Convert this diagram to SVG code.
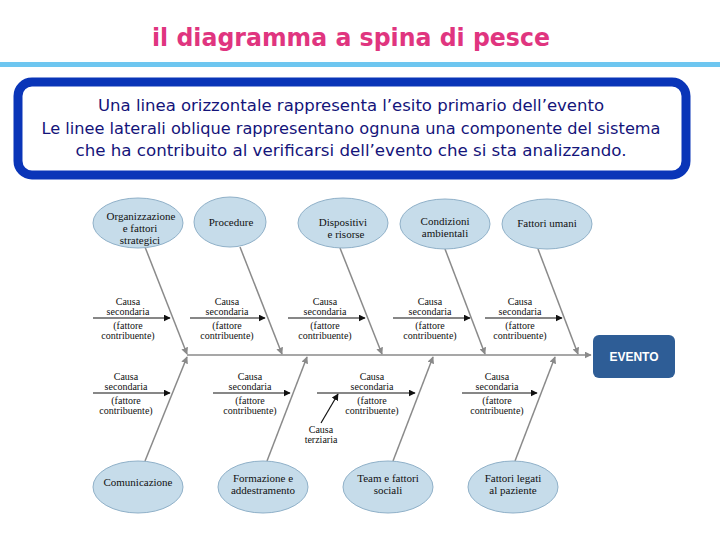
<svg xmlns="http://www.w3.org/2000/svg" width="720" height="540" viewBox="0 0 720 540">
<style>
.title{font-family:"DejaVu Sans","Liberation Sans",sans-serif;font-size:25px;font-weight:600;fill:#e0357f;}
.intro{font-family:"DejaVu Sans","Liberation Sans",sans-serif;font-size:16px;fill:#14147a;text-anchor:middle;}
.el{fill:#c6dcea;stroke:#8fb0c8;stroke-width:1;}
.et{font-family:"Liberation Serif",serif;font-size:11px;fill:#111;text-anchor:middle;}
.ct{font-family:"Liberation Serif",serif;font-size:10px;fill:#111;text-anchor:middle;}
.bone{stroke:#8a8a8a;stroke-width:1.5;fill:none;}
.sub{stroke:#111;stroke-width:1.2;fill:none;}
</style>
<defs>
<marker id="ag" viewBox="0 0 10 10" refX="9" refY="5" markerWidth="7" markerHeight="7" orient="auto" markerUnits="userSpaceOnUse"><path d="M0,0 L10,5 L0,10 z" fill="#8a8a8a"/></marker>
<marker id="ab" viewBox="0 0 10 10" refX="9" refY="5" markerWidth="7" markerHeight="7" orient="auto" markerUnits="userSpaceOnUse"><path d="M0,0 L10,5 L0,10 z" fill="#111"/></marker>
</defs>
<rect width="720" height="540" fill="#fff"/>
<text class="title" x="152" y="46" textLength="398" lengthAdjust="spacingAndGlyphs">il diagramma a spina di pesce</text>
<rect x="0" y="62" width="720" height="5" fill="#6ec6f0"/>
<rect x="18" y="82" width="668" height="93" rx="14" fill="#fff" stroke="#0a35b8" stroke-width="9"/>
<text class="intro" x="351" y="111" textLength="506" lengthAdjust="spacingAndGlyphs">Una linea orizzontale rappresenta l’esito primario dell’evento</text>
<text class="intro" x="351" y="134" textLength="619" lengthAdjust="spacingAndGlyphs">Le linee laterali oblique rappresentano ognuna una componente del sistema</text>
<text class="intro" x="351" y="156" textLength="551" lengthAdjust="spacingAndGlyphs">che ha contribuito al verificarsi dell’evento che si sta analizzando.</text>

<g id="connectors">
<line class="bone" x1="187" y1="355" x2="591" y2="355" marker-end="url(#ag)"/>
<line class="bone" x1="145" y1="247" x2="187" y2="354" marker-end="url(#ag)"/>
<line class="bone" x1="240" y1="247" x2="282" y2="354" marker-end="url(#ag)"/>
<line class="bone" x1="340" y1="248" x2="382" y2="354" marker-end="url(#ag)"/>
<line class="bone" x1="445" y1="249" x2="485" y2="354" marker-end="url(#ag)"/>
<line class="bone" x1="538" y1="249" x2="578" y2="354" marker-end="url(#ag)"/>
<line class="bone" x1="145" y1="461" x2="187" y2="357" marker-end="url(#ag)"/>
<line class="bone" x1="267" y1="461" x2="307" y2="357" marker-end="url(#ag)"/>
<line class="bone" x1="393" y1="461" x2="433" y2="357" marker-end="url(#ag)"/>
<line class="bone" x1="515" y1="461" x2="555" y2="357" marker-end="url(#ag)"/>
<line class="sub" x1="93" y1="318" x2="170" y2="318" marker-end="url(#ab)"/>
<line class="sub" x1="190" y1="318" x2="265" y2="318" marker-end="url(#ab)"/>
<line class="sub" x1="288" y1="318" x2="365" y2="318" marker-end="url(#ab)"/>
<line class="sub" x1="393" y1="318" x2="470" y2="318" marker-end="url(#ab)"/>
<line class="sub" x1="485" y1="318" x2="562" y2="318" marker-end="url(#ab)"/>
<line class="sub" x1="93" y1="393" x2="170" y2="393" marker-end="url(#ab)"/>
<line class="sub" x1="213" y1="393" x2="290" y2="393" marker-end="url(#ab)"/>
<line class="sub" x1="317" y1="393" x2="415" y2="393" marker-end="url(#ab)"/>
<line class="sub" x1="462" y1="393" x2="537" y2="393" marker-end="url(#ab)"/>
<line class="sub" x1="321" y1="423" x2="338" y2="394" marker-end="url(#ab)"/>
</g>

<g id="evento"><rect x="593" y="335" width="82" height="43" rx="6" fill="#2e5d96"/><text x="634" y="361" font-family="Liberation Sans,sans-serif" font-size="12" font-weight="bold" fill="#fff" text-anchor="middle">EVENTO</text></g>

<g id="organizzazione"><ellipse class="el" cx="138" cy="223" rx="45" ry="25"/><text class="et" x="141" y="220">Organizzazione</text><text class="et" x="140" y="232">e fattori</text><text class="et" x="140" y="244">strategici</text></g>
<g id="procedure"><ellipse class="el" cx="230" cy="222" rx="36" ry="25"/><text class="et" x="231" y="226">Procedure</text></g>
<g id="dispositivi"><ellipse class="el" cx="343" cy="223" rx="45" ry="25"/><text class="et" x="343" y="226">Dispositivi</text><text class="et" x="346" y="238">e risorse</text></g>
<g id="condizioni"><ellipse class="el" cx="445" cy="224" rx="45" ry="25"/><text class="et" x="445" y="225">Condizioni</text><text class="et" x="445" y="237">ambientali</text></g>
<g id="fattori-umani"><ellipse class="el" cx="547" cy="224" rx="45" ry="25"/><text class="et" x="547" y="227">Fattori umani</text></g>

<g id="comunicazione"><ellipse class="el" cx="138" cy="487" rx="45" ry="26"/><text class="et" x="138" y="486">Comunicazione</text></g>
<g id="formazione"><ellipse class="el" cx="263" cy="487" rx="45" ry="26"/><text class="et" x="263" y="482">Formazione e</text><text class="et" x="263" y="494">addestramento</text></g>
<g id="team"><ellipse class="el" cx="388" cy="487" rx="45" ry="26"/><text class="et" x="388" y="482">Team e fattori</text><text class="et" x="388" y="494">sociali</text></g>
<g id="fattori-paziente"><ellipse class="el" cx="513" cy="487" rx="45" ry="26"/><text class="et" x="513" y="482">Fattori legati</text><text class="et" x="513" y="494">al paziente</text></g>

<g id="cause-top">
<text class="ct" x="128" y="305">Causa</text><text class="ct" x="128" y="315">secondaria</text><text class="ct" x="128" y="329">(fattore</text><text class="ct" x="128" y="339">contribuente)</text>
<text class="ct" x="227" y="305">Causa</text><text class="ct" x="227" y="315">secondaria</text><text class="ct" x="227" y="329">(fattore</text><text class="ct" x="227" y="339">contribuente)</text>
<text class="ct" x="325" y="305">Causa</text><text class="ct" x="325" y="315">secondaria</text><text class="ct" x="325" y="329">(fattore</text><text class="ct" x="325" y="339">contribuente)</text>
<text class="ct" x="430" y="305">Causa</text><text class="ct" x="430" y="315">secondaria</text><text class="ct" x="430" y="329">(fattore</text><text class="ct" x="430" y="339">contribuente)</text>
<text class="ct" x="520" y="305">Causa</text><text class="ct" x="520" y="315">secondaria</text><text class="ct" x="520" y="329">(fattore</text><text class="ct" x="520" y="339">contribuente)</text>
</g>
<g id="cause-bottom">
<text class="ct" x="126" y="380">Causa</text><text class="ct" x="126" y="390">secondaria</text><text class="ct" x="126" y="404">(fattore</text><text class="ct" x="126" y="414">contribuente)</text>
<text class="ct" x="250" y="380">Causa</text><text class="ct" x="250" y="390">secondaria</text><text class="ct" x="250" y="404">(fattore</text><text class="ct" x="250" y="414">contribuente)</text>
<text class="ct" x="372" y="380">Causa</text><text class="ct" x="372" y="390">secondaria</text><text class="ct" x="372" y="404">(fattore</text><text class="ct" x="372" y="414">contribuente)</text>
<text class="ct" x="497" y="380">Causa</text><text class="ct" x="497" y="390">secondaria</text><text class="ct" x="497" y="404">(fattore</text><text class="ct" x="497" y="414">contribuente)</text>
<text class="ct" x="321" y="433">Causa</text><text class="ct" x="321" y="443">terziaria</text>
</g>
</svg>
